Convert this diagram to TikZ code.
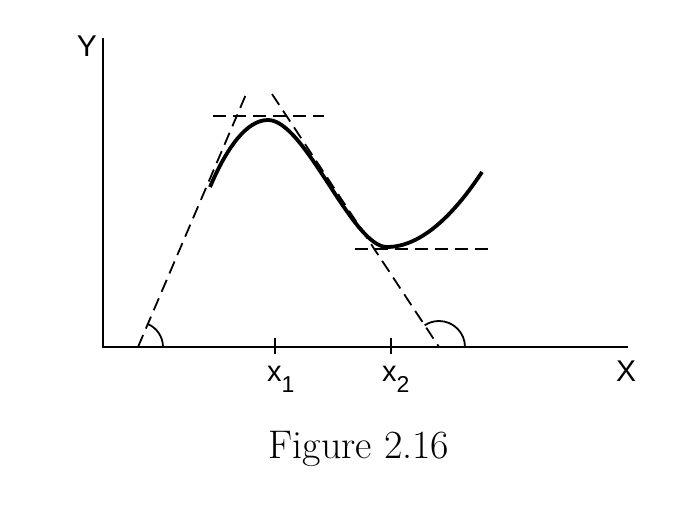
\documentclass[tikz,border=0pt]{standalone}
\usepackage{fontspec}
\newfontfamily\sansf{Liberation Sans}
\begin{document}
\begin{tikzpicture}[x=1pt,y=-1pt,
  axis/.style={line width=2pt},
  curve/.style={line width=3.8pt},
  tangent/.style={line width=1.8pt,dash pattern=on 13pt off 7pt},
  anglearc/.style={line width=1.8pt},
  tick/.style={line width=1.8pt},
  lab/.style={font=\sansf\fontsize{30}{32}\selectfont,inner sep=0pt},
  ticklab/.style={font=\sansf\fontsize{29}{30}\selectfont,inner sep=0pt,anchor=base west}]
\useasboundingbox (0,0) rectangle (679,508);
\coordinate (O) at (103,347);
\coordinate (ytop) at (103,38);
\coordinate (xend) at (628,347);
\draw[axis] (ytop) -- (O) -- (xend);
\node[lab] (Y) at (87,46) {Y};
\node[lab] (X) at (626,371) {X};
% ticks
\coordinate (t1) at (275,347);
\coordinate (t2) at (391,347);
\draw[tick] ([yshift=-7pt]t1) -- ([yshift=9pt]t1);
\draw[tick] ([yshift=-7pt]t2) -- ([yshift=9pt]t2);
\node[ticklab] (x1) at (267,381) {x\raisebox{-11pt}{\fontsize{23}{24}\selectfont 1}};
\node[ticklab] (x2) at (382,381) {x\raisebox{-11pt}{\fontsize{23}{24}\selectfont 2}};
% tangents
\coordinate (A) at (138,347);
\coordinate (At) at (247,92);
\coordinate (B) at (439,347);
\coordinate (Bt) at (272,94);
\draw[tangent] (A) -- (At);
\draw[tangent] (Bt) -- (B);
\coordinate (h1a) at (213,116);
\coordinate (h1b) at (324,116);
\coordinate (h2a) at (355,249);
\coordinate (h2b) at (491,249);
\draw[tangent] (h1a) -- (h1b);
\draw[tangent] (h2a) -- (h2b);
% angle arcs
\draw[anglearc] ([xshift=25pt]A) arc[start angle=0,end angle=67,radius=25pt];
\draw[anglearc] ([xshift=26pt]B) arc[start angle=0,end angle=123.5,radius=26pt];
% curve
\coordinate (c0) at (210,187);
\coordinate (c1) at (268,120);
\coordinate (c2) at (387,247);
\coordinate (c3) at (482,172);
\draw[curve] (c0) .. controls (227,147) and (247,120) .. (c1)
  .. controls (305,120) and (352,247) .. (c2)
  .. controls (422,247) and (455,213) .. (c3);
\node[font=\fontsize{40}{44}\selectfont,inner sep=0pt] (cap) at (359,449) {Figure 2.16};
\end{tikzpicture}
\end{document}
